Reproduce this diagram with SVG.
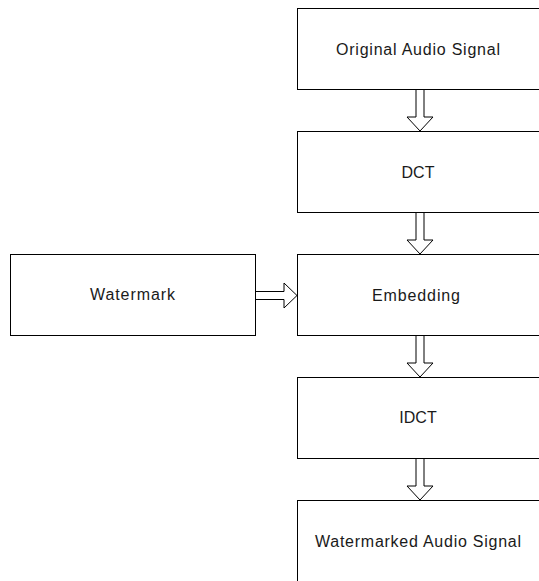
<svg xmlns="http://www.w3.org/2000/svg" width="539" height="581" viewBox="0 0 539 581">
<style>
.box{fill:#fff;stroke:#000;stroke-width:1}
.lbl{font-family:"Liberation Sans",Arial,sans-serif;font-size:16px;fill:#1a1a1a;text-anchor:middle}
.arr{fill:#fff;stroke:#000;stroke-width:1}
</style>
<rect width="539" height="581" fill="#fff"/>
<g id="connectors">
<polygon class="arr" points="416,89.5 424,89.5 424,117 433,117 420,131 407,117 416,117"/>
<polygon class="arr" points="416,212.5 424,212.5 424,240 433,240 420,254 407,240 416,240"/>
<polygon class="arr" points="416,335.5 424,335.5 424,363 433,363 420,377 407,363 416,363"/>
<polygon class="arr" points="416,458.5 424,458.5 424,486 433,486 420,500 407,486 416,486"/>
<polygon class="arr" points="255.5,291.5 284,291.5 284,283 297,295.5 284,308 284,299.5 255.5,299.5"/>
</g>
<g id="original">
<rect class="box" x="297.5" y="8.5" width="245" height="81"/>
<text class="lbl" x="418" y="55" textLength="164" lengthAdjust="spacing">Original Audio Signal</text>
</g>
<g id="dct">
<rect class="box" x="297.5" y="131.5" width="245" height="81"/>
<text class="lbl" x="418" y="178">DCT</text>
</g>
<g id="embedding">
<rect class="box" x="297.5" y="254.5" width="245" height="81"/>
<text class="lbl" x="416" y="301" textLength="88" lengthAdjust="spacing">Embedding</text>
</g>
<g id="watermark">
<rect class="box" x="10.5" y="254.5" width="245" height="81"/>
<text class="lbl" x="132.5" y="300" textLength="85" lengthAdjust="spacing">Watermark</text>
</g>
<g id="idct">
<rect class="box" x="297.5" y="377.5" width="245" height="81"/>
<text class="lbl" x="418" y="423">IDCT</text>
</g>
<g id="watermarked">
<rect class="box" x="297.5" y="500.5" width="245" height="81"/>
<text class="lbl" x="418" y="547" textLength="206" lengthAdjust="spacing">Watermarked Audio Signal</text>
</g>
</svg>
